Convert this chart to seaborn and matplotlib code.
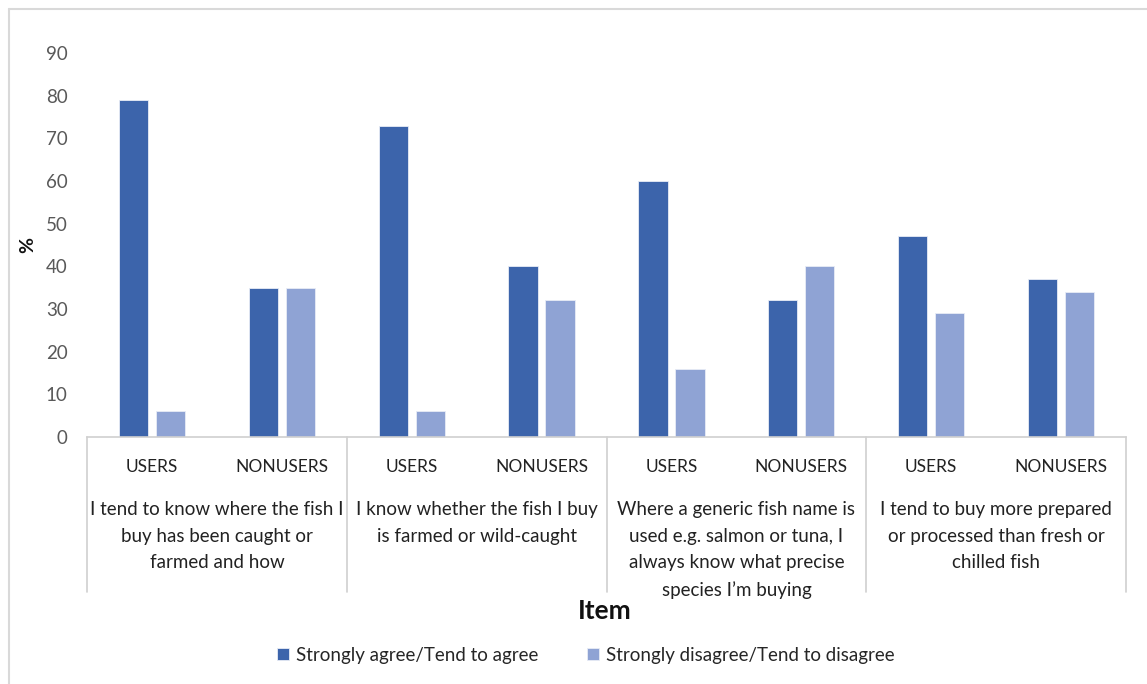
import matplotlib
matplotlib.use("Agg")
import matplotlib.pyplot as plt
from matplotlib.lines import Line2D
import seaborn as sns
import pandas as pd

# Survey items (long labels wrapped as shown under the axis)
items = [
    "I tend to know where the fish I\nbuy has been caught or\nfarmed and how",
    "I know whether the fish I buy\nis farmed or wild-caught",
    "Where a generic fish name is\nused e.g. salmon or tuna, I\nalways know what precise\nspecies I\u2019m buying",
    "I tend to buy more prepared\nor processed than fresh or\nchilled fish",
]
groups = ["USERS", "NONUSERS"]
responses = ["Strongly agree/Tend to agree", "Strongly disagree/Tend to disagree"]

# Percentages per item, ordered USERS then NONUSERS
agree = [79, 35, 73, 40, 60, 32, 47, 37]
disagree = [6, 35, 6, 32, 16, 40, 29, 34]

colors = ["#3C64AB", "#8FA3D4"]

rows = []
for i, item in enumerate(items):
    for j, g in enumerate(groups):
        k = i * 2 + j
        key = f"{i}-{g}"
        rows.append({"slot": key, "response": responses[0], "pct": agree[k]})
        rows.append({"slot": key, "response": responses[1], "pct": disagree[k]})
df = pd.DataFrame(rows)
order = [f"{i}-{g}" for i in range(len(items)) for g in groups]

sns.set_theme(style="white")
plt.rcParams["font.family"] = ["Lato", "DejaVu Sans"]

fig = plt.figure(figsize=(11.47, 6.84), dpi=100)
ax = fig.add_axes([87 / 1147, 1 - 437 / 684, (1126 - 87) / 1147, (437 - 53) / 684])

sns.barplot(data=df, x="slot", y="pct", hue="response", order=order,
            hue_order=responses, palette=colors, saturation=1, width=0.57, gap=0.21,
            edgecolor="#E8ECF6", linewidth=0.6, ax=ax, legend=True)

ax.set_ylim(0, 90)
ax.set_xlim(-0.5, len(order) - 0.5)
ax.set_yticks(range(0, 91, 10))
ax.tick_params(axis="y", length=0, labelsize=13.5, labelcolor="#595959", pad=14)
ax.set_xticks(range(len(order)))
ax.set_xticklabels([g for _ in items for g in groups], fontsize=12.5, color="#222222")
ax.tick_params(axis="x", length=0, pad=16)
ax.set_xlabel("")
ax.set_ylabel("%", fontsize=14, fontweight="bold", color="#111111")
ax.yaxis.set_label_coords(-51 / 1039, 0.5)

for side in ["left", "right", "top"]:
    ax.spines[side].set_visible(False)
ax.spines["bottom"].set_color("#D0D0D0")
ax.spines["bottom"].set_linewidth(1.2)

# Separator lines for the two-level category axis
trans = ax.get_xaxis_transform()
for b in [-0.5, 1.5, 3.5, 5.5, 7.5]:
    ax.add_line(Line2D([b, b], [0, -155 / 384], transform=trans, color="#D0D0D0",
                       lw=1.2, clip_on=False))

# Item labels under each pair of groups
for i, item in enumerate(items):
    ax.text(i * 2 + 0.5, -64 / 384, item, transform=trans, ha="center", va="top",
            fontsize=13.5, linespacing=1.68, color="#222222")

fig.text(605 / 1147, 1 - 611 / 684, "Item", ha="center", va="center",
         fontsize=19, fontweight="bold", color="#111111")

handles, labels = ax.get_legend_handles_labels()
ax.get_legend().remove()
fig.legend(handles, labels, loc="center", bbox_to_anchor=(586 / 1147, 1 - 655 / 684),
           ncol=2, frameon=False, fontsize=13.5, handlelength=0.6, handleheight=0.6,
           handletextpad=0.4, columnspacing=2.6)

# Light chart-area frame along the top and left edges
fig.add_artist(Line2D([9 / 1147, 1], [1 - 9 / 684, 1 - 9 / 684], transform=fig.transFigure,
                      color="#D9D9D9", lw=1.5))
fig.add_artist(Line2D([9 / 1147, 9 / 1147], [0, 1 - 9 / 684], transform=fig.transFigure,
                      color="#D9D9D9", lw=1.5))

fig.savefig("out.png", dpi=100)
